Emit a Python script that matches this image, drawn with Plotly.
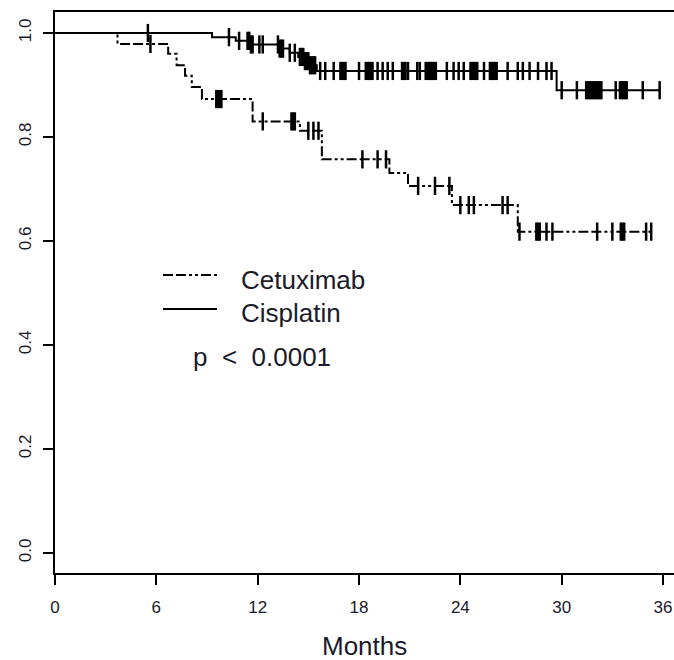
import plotly.graph_objects as go

# ---- data ----
# Kaplan-Meier step points: time (months) and survival after the drop
cet_times = [0, 3.7, 6.7, 7.2, 7.7, 8.1, 8.7, 11.7, 14.5, 15.8, 19.8, 20.9, 23.5, 27.4]
cet_surv = [1.0, 0.979, 0.960, 0.938, 0.918, 0.896, 0.873, 0.830, 0.812, 0.757, 0.731, 0.706, 0.669, 0.618]
cet_censor = [5.65, 9.55, 9.65, 9.75, 9.85, 12.3, 14.0, 14.1, 14.2, 15.0, 15.3, 15.6, 18.2, 19.1, 19.6,
              21.5, 22.5, 23.35, 24.0, 24.5, 24.8, 26.5, 26.8, 27.5, 28.5, 28.6, 28.7, 29.1, 29.45,
              32.1, 33.0, 33.5, 33.6, 33.7, 35.0, 35.3]

cis_times = [0, 9.3, 10.7, 11.6, 13.3, 13.9, 14.4, 14.8, 15.1, 15.5, 29.7]
cis_surv = [1.0, 0.992, 0.985, 0.978, 0.970, 0.962, 0.954, 0.946, 0.938, 0.927, 0.890]
cis_censor = [5.5, 10.3, 10.9, 11.4, 11.5, 11.6, 11.7, 12.1, 12.3, 13.2, 13.3, 13.4, 13.5, 13.9,
              14.2, 14.5, 14.6, 14.7, 14.8, 14.9, 15.0, 15.1, 15.2, 15.3, 15.4, 15.7, 16.0,
              16.5, 16.9, 17.0, 17.1, 17.2, 18.0, 18.4, 18.5, 18.6, 18.7, 18.8, 19.1, 19.4,
              19.7, 20.0, 20.55, 20.65, 20.75, 20.9, 21.45, 21.6, 21.95, 22.05, 22.15, 22.25,
              22.35, 22.45, 22.55, 23.2, 23.6, 23.9, 24.2, 24.6, 24.7, 24.8, 24.9, 25.0, 25.4,
              25.75, 25.85, 25.95, 26.05, 26.15, 26.8, 27.4, 27.7, 28.1, 28.6, 29.1, 29.4, 30.0,
              30.9, 31.45, 31.55, 31.65, 31.75, 31.85, 31.95, 32.05, 32.15, 32.25, 32.35, 33.2,
              33.45, 33.55, 33.65, 33.75, 33.85, 34.8, 35.8]

x_tick_vals = [0, 6, 12, 18, 24, 30, 36]
y_tick_vals = [0.0, 0.2, 0.4, 0.6, 0.8, 1.0]
y_tick_text = ["0.0", "0.2", "0.4", "0.6", "0.8", "1.0"]
labels = ["Cetuximab", "Cisplatin"]
p_text = "p  <  0.0001"


def surv_at(times, surv, t):
    s = surv[0]
    for ti, si in zip(times, surv):
        if ti <= t:
            s = si
    return s


CET_DASH = "10px,3px,10px,3px,3px,3px,3px,3px"
FONT = "Liberation Sans, Arial, sans-serif"
TXT = "#1a1a2a"

fig = go.Figure()

for times, surv, cens, dash in [(cet_times, cet_surv, cet_censor, CET_DASH),
                                (cis_times, cis_surv, cis_censor, "solid")]:
    end = max(cens)
    xs = list(times) + [end]
    ys = list(surv) + [surv[-1]]
    fig.add_trace(go.Scatter(x=xs, y=ys, mode="lines", line_shape="hv",
                             line=dict(color="black", width=2, dash=dash),
                             showlegend=False, hoverinfo="skip"))
    fig.add_trace(go.Scatter(x=cens, y=[surv_at(times, surv, c) for c in cens],
                             mode="markers",
                             marker=dict(symbol="line-ns", size=13, color="black",
                                         line=dict(color="black", width=2.5)),
                             showlegend=False, hoverinfo="skip"))

# legend (hand placed, as in the original figure)
fig.add_shape(type="line", xref="paper", yref="paper", x0=0.1745, x1=0.2617, y0=0.531, y1=0.531,
              line=dict(color="black", width=2, dash=CET_DASH))
fig.add_shape(type="line", xref="paper", yref="paper", x0=0.1745, x1=0.2617, y0=0.4706, y1=0.4706,
              line=dict(color="black", width=2))
fig.add_annotation(x=0.297, y=0.522, xref="paper", yref="paper", text=labels[0], showarrow=False,
                   xanchor="left", yanchor="middle", font=dict(family=FONT, size=26, color=TXT))
fig.add_annotation(x=0.297, y=0.4635, xref="paper", yref="paper", text=labels[1], showarrow=False,
                   xanchor="left", yanchor="middle", font=dict(family=FONT, size=26, color=TXT))
fig.add_annotation(x=0.219, y=0.385, xref="paper", yref="paper", text=p_text, showarrow=False,
                   xanchor="left", yanchor="middle", font=dict(family=FONT, size=26, color=TXT))
fig.add_annotation(x=0.5, y=-0.13, xref="paper", yref="paper", text="Months", showarrow=False,
                   xanchor="center", yanchor="middle", font=dict(family=FONT, size=26, color=TXT))

fig.update_layout(
    width=674, height=660,
    margin=dict(l=55, r=0, t=12, b=87),
    plot_bgcolor="white", paper_bgcolor="white",
    font=dict(family=FONT, color=TXT),
)
fig.update_xaxes(range=[0, 36.65], tickvals=x_tick_vals, showgrid=False, zeroline=False,
                 showline=True, linecolor="black", linewidth=2, mirror=True,
                 ticks="outside", ticklen=10, tickwidth=2, tickcolor="black",
                 tickfont=dict(size=17, color=TXT), ticklabelstandoff=8)
fig.update_yaxes(range=[-0.0385, 1.0404], tickvals=y_tick_vals, ticktext=y_tick_text,
                 showgrid=False, zeroline=False,
                 showline=True, linecolor="black", linewidth=2,
                 ticks="outside", ticklen=10, tickwidth=2, tickcolor="black",
                 tickangle=-90, tickfont=dict(size=17, color=TXT), ticklabelstandoff=5)

fig.write_html("out.html")
